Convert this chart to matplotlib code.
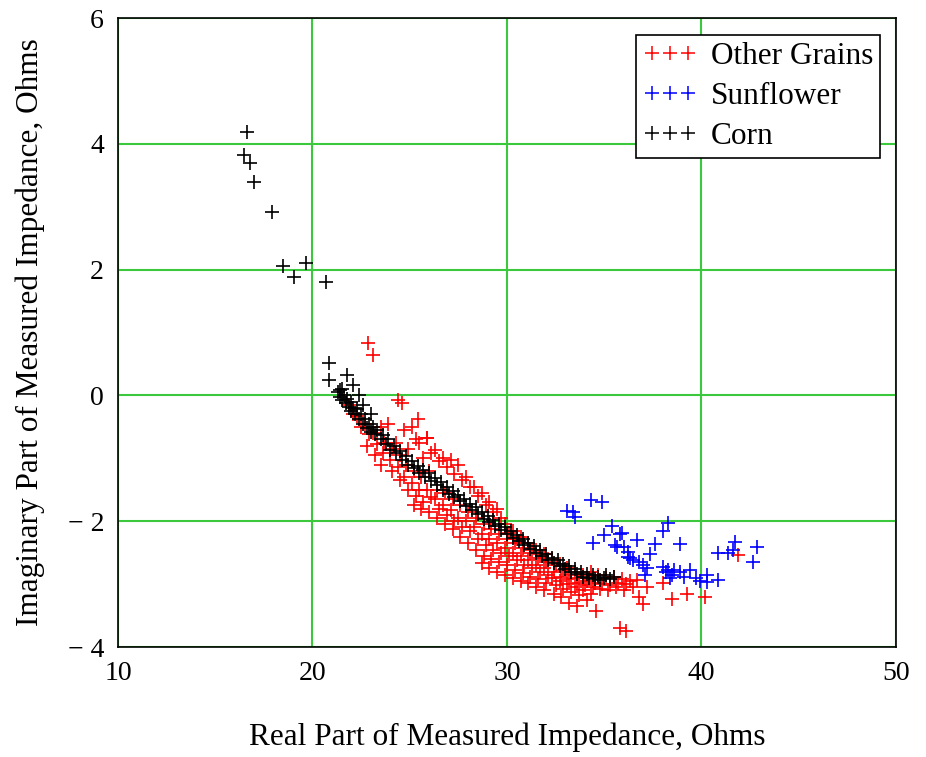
import matplotlib
matplotlib.use('Agg')
import matplotlib.pyplot as plt
from matplotlib.lines import Line2D

plt.rcParams['font.family'] = ['Liberation Serif', 'DejaVu Serif']

# 图例顺序 / 颜色
series_names = ['Other Grains', 'Sunflower', 'Corn']
series_colors = ['#ff0000', '#0000ff', '#000000']

# Other Grains
other_x = [21.9, 22.1,
           22.3, 22.5,
           22.7, 22.9, 22.8,
           23.1, 23.3, 23.2,
           23.5, 23.7, 23.6, 23.5,
           23.9, 24.1, 24.0, 24.1,
           24.3, 24.5, 24.4, 24.5,
           24.7, 24.9, 24.8, 24.7, 24.9,
           25.1, 25.3, 25.2, 25.1, 25.3, 25.2,
           25.5, 25.7, 25.6, 25.5, 25.7, 25.6,
           25.9, 26.1, 26.0, 25.9, 26.1, 26.0,
           26.3, 26.5, 26.4, 26.3, 26.5, 26.4,
           26.7, 26.9, 26.8, 26.7, 26.9, 26.8,
           27.1, 27.3, 27.2, 27.1, 27.3, 27.2,
           27.5, 27.7, 27.6, 27.5, 27.7, 27.6,
           27.9, 28.1, 28.0, 27.9, 28.1, 28.0,
           28.3, 28.5, 28.4, 28.3, 28.5, 28.4,
           28.7, 28.9, 28.8, 28.7, 28.9, 28.8, 28.7,
           29.1, 29.3, 29.2, 29.1, 29.3, 29.2, 29.1,
           29.5, 29.7, 29.6, 29.5, 29.7, 29.6, 29.5,
           29.9, 30.1, 30.0, 29.9, 30.1, 30.0, 29.9,
           30.3, 30.5, 30.4, 30.3, 30.5, 30.4, 30.3,
           30.7, 30.9, 30.8, 30.7, 30.9, 30.8, 30.7,
           31.1, 31.3, 31.2, 31.1, 31.3, 31.2, 31.1,
           31.5, 31.7, 31.6, 31.5, 31.7, 31.6, 31.5,
           31.9, 32.1, 32.0, 31.9, 32.1, 32.0, 31.9,
           32.3, 32.5, 32.4, 32.3, 32.5, 32.4,
           32.7, 32.9, 32.8, 32.7, 32.9, 32.8,
           33.1, 33.3, 33.2, 33.1, 33.3, 33.2,
           33.5, 33.7, 33.6, 33.5, 33.7, 33.6,
           33.9, 34.1, 34.0, 33.9, 34.1,
           34.3, 34.5, 34.4, 34.3,
           34.7, 34.9, 34.8, 34.6,
           35.1, 35.3, 35.2,
           35.5, 35.7, 35.6,
           35.9, 36.1, 36.0,
           36.3, 36.5,
           36.7, 36.8, 37.0, 37.2,
           22.85, 23.1, 24.4, 24.6, 25.4, 25.9, 35.8, 36.1,
           38.0, 38.5, 39.25, 40.2, 41.9]
other_y = [-0.15, -0.3,
           -0.32, -0.5,
           -0.45, -0.62, -0.8,
           -0.6, -0.78, -0.95,
           -0.5, -0.75, -0.92, -1.1,
           -0.45, -0.85, -1.03, -1.2,
           -0.75, -0.95, -1.14, -1.35,
           -0.55, -0.85, -1.1, -1.3, -1.5,
           -0.5, -0.7, -1.2, -1.4, -1.6, -1.75,
           -0.75, -1.0, -1.3, -1.5, -1.7, -1.8,
           -0.67, -0.92, -1.2, -1.5, -1.62, -1.85,
           -0.87, -1.05, -1.5, -1.65, -1.8, -1.95,
           -1.0, -1.14, -1.55, -1.75, -1.9, -2.05,
           -1.03, -1.25, -1.65, -1.82, -2.0, -2.12,
           -1.1, -1.35, -1.75, -1.95, -2.1, -2.25,
           -1.3, -1.46, -1.85, -2.0, -2.15, -2.35,
           -1.45, -1.6, -1.95, -2.1, -2.28, -2.45,
           -1.55, -1.75, -2.05, -2.2, -2.38, -2.55, -2.67,
           -1.7, -1.85, -2.12, -2.28, -2.45, -2.6, -2.75,
           -1.8, -1.95, -2.2, -2.35, -2.5, -2.65, -2.8,
           -2.05, -2.18, -2.28, -2.42, -2.55, -2.7, -2.85,
           -2.15, -2.28, -2.35, -2.5, -2.62, -2.78, -2.9,
           -2.25, -2.35, -2.42, -2.56, -2.7, -2.82, -2.95,
           -2.35, -2.45, -2.5, -2.62, -2.75, -2.88, -2.98,
           -2.45, -2.52, -2.58, -2.7, -2.8, -2.92, -3.05,
           -2.52, -2.6, -2.65, -2.75, -2.85, -2.98, -3.1,
           -2.6, -2.7, -2.8, -2.9, -3.02, -3.15,
           -2.68, -2.78, -2.88, -2.95, -3.08, -3.2,
           -2.75, -2.85, -2.92, -3.0, -3.12, -3.3,
           -2.8, -2.9, -2.98, -3.05, -3.18, -3.35,
           -2.85, -2.95, -3.02, -3.1, -3.25,
           -2.8, -2.98, -3.05, -3.15,
           -2.85, -3.0, -3.08, -3.42,
           -2.9, -3.02, -3.1,
           -2.88, -2.98, -3.05,
           -2.92, -3.0, -3.1,
           -2.95, -3.05,
           -2.94, -3.21, -3.31, -3.05,
           0.84, 0.64, -0.08, -0.12, -0.38, -0.67, -3.69, -3.74,
           -2.99, -3.23, -3.15, -3.21, -2.54]

# Sunflower
sunflower_x = [33.1, 33.4, 33.5, 34.3, 34.9, 34.4, 35.4, 35.0, 35.9, 36.7,
               35.65, 36.2, 36.2, 36.5, 36.8, 37.0, 37.2, 37.35, 37.6, 38.0,
               38.3, 38.9, 38.0, 38.3, 38.5, 38.6, 38.9, 39.4, 39.7, 38.4,
               40.3, 40.3, 40.85, 40.85, 41.35, 41.7, 41.6, 42.85, 42.65,
               35.55, 36.0, 35.8, 36.3, 37.1, 38.2, 39.1, 39.9]
sunflower_y = [-1.83, -1.86, -1.94, -1.67, -1.70, -2.34, -2.07, -2.22, -2.18, -2.30,
               -2.41, -2.49, -2.57, -2.62, -2.65, -2.70, -2.75, -2.52, -2.36, -2.15,
               -2.03, -2.36, -2.73, -2.78, -2.86, -2.78, -2.81, -2.78, -2.91, -2.91,
               -2.86, -2.97, -2.94, -2.50, -2.50, -2.33, -2.46, -2.41, -2.65,
               -2.38, -2.41, -2.20, -2.59, -2.85, -2.80, -2.88, -2.95]

# Corn
corn_x = [16.63, 16.5, 16.8, 17.0, 17.9, 18.5, 19.05, 19.67, 20.7, 20.85,
          20.85, 21.8, 21.4, 22.1, 22.4, 22.6, 23.0,
          21.3, 21.4, 21.5, 21.5, 21.6, 21.7, 21.8, 21.9, 22.0, 22.0,
          22.1, 22.2, 22.3, 22.4, 22.5, 22.6, 22.7, 22.8, 22.9, 23.0,
          23.1, 23.2, 23.3, 23.5, 23.6, 23.8, 23.9, 24.0, 24.2, 24.3,
          24.5, 24.6, 24.8, 24.9, 25.1, 25.2, 25.4, 25.5, 25.7, 25.8,
          26.0, 26.1, 26.3, 26.4, 26.6, 26.7, 26.9, 27.0, 27.2, 27.3,
          27.5, 27.6, 27.8, 27.9, 28.1, 28.2, 28.4, 28.5, 28.7, 28.8,
          29.0, 29.1, 29.3, 29.4, 29.6, 29.7, 29.9, 30.0, 30.2, 30.3,
          30.5, 30.6, 30.8, 30.9, 31.1, 31.2, 31.4, 31.5, 31.7, 31.8,
          32.0, 32.1, 32.3, 32.4, 32.6, 32.7, 32.9, 33.0, 33.2, 33.3,
          33.5, 33.6, 33.8, 33.9, 34.1, 34.2, 34.4, 34.5, 34.7, 34.8,
          35.0, 35.1, 35.3, 35.5]
corn_y = [4.18, 3.83, 3.70, 3.40, 2.91, 2.05, 1.89, 2.10, 1.80, 0.52,
          0.24, 0.32, 0.08, 0.16, 0.0, -0.15, -0.3,
          0.05, -0.02, 0.1, -0.08, 0.0, -0.12, -0.05, -0.18, -0.1, -0.25,
          -0.2, -0.3, -0.22, -0.38, -0.3, -0.45, -0.38, -0.52, -0.46, -0.58,
          -0.5, -0.62, -0.55, -0.7, -0.63, -0.78, -0.7, -0.86, -0.8, -0.92,
          -0.88, -1.02, -0.96, -1.1, -1.04, -1.16, -1.12, -1.24, -1.18, -1.3,
          -1.24, -1.36, -1.32, -1.42, -1.38, -1.5, -1.45, -1.56, -1.52, -1.62,
          -1.58, -1.68, -1.65, -1.76, -1.72, -1.82, -1.78, -1.88, -1.85, -1.96,
          -1.92, -2.02, -1.98, -2.08, -2.05, -2.14, -2.1, -2.2, -2.16, -2.26,
          -2.22, -2.32, -2.28, -2.38, -2.34, -2.44, -2.4, -2.5, -2.46, -2.56,
          -2.52, -2.62, -2.58, -2.66, -2.62, -2.72, -2.68, -2.76, -2.72, -2.8,
          -2.76, -2.84, -2.8, -2.88, -2.84, -2.9, -2.86, -2.92, -2.88, -2.94,
          -2.9, -2.86, -2.92, -2.88]

x_ticks = [10, 20, 30, 40, 50]
y_ticks = [-4, -2, 0, 2, 4, 6]
y_tick_labels = ['\u2212 4', '\u2212 2', '0', '2', '4', '6']

fig = plt.figure(figsize=(9.26, 7.57), dpi=100)
ax = fig.add_axes([0.1274, 0.1453, 0.8402, 0.8309])

# 散点（+号）
mk = dict(marker='+', linestyle='none', markersize=10, markeredgewidth=1.2)
ax.plot(other_x, other_y, color=series_colors[0], **mk)
ax.plot(sunflower_x, sunflower_y, color=series_colors[1], **mk)
ax.plot(corn_x, corn_y, color=series_colors[2], **mk)

ax.set_xlim(10, 50)
ax.set_ylim(-4, 6)
ax.set_xticks(x_ticks)
ax.set_yticks(y_ticks)
ax.set_yticklabels(y_tick_labels)
ax.tick_params(length=0, labelsize=20, pad=10)
ax.grid(True, color='#3cc83c', linewidth=1.5)
ax.set_axisbelow(True)
for s in ax.spines.values():
    s.set_color('black')
    s.set_linewidth(1.2)

ax.set_xlabel('Real Part of Measured Impedance, Ohms', fontsize=22.5, labelpad=26)
ax.set_ylabel('Imaginary Part of Measured Impedance, Ohms', fontsize=22.5, labelpad=16)

# 图例
handles = [Line2D([0], [0], color=c, marker='+', linestyle='none', markersize=10.5,
                  markeredgewidth=1.1) for c in series_colors]
leg = ax.legend(handles, series_names, loc='upper right', numpoints=3,
                handlelength=1.75, handletextpad=0.45, fontsize=22.5, fancybox=False,
                framealpha=1, edgecolor='black', borderpad=0.22, labelspacing=0.36,
                borderaxespad=0.0, bbox_to_anchor=(0.98, 0.973))
leg.get_frame().set_linewidth(1.2)

plt.savefig('out.png', dpi=100)
